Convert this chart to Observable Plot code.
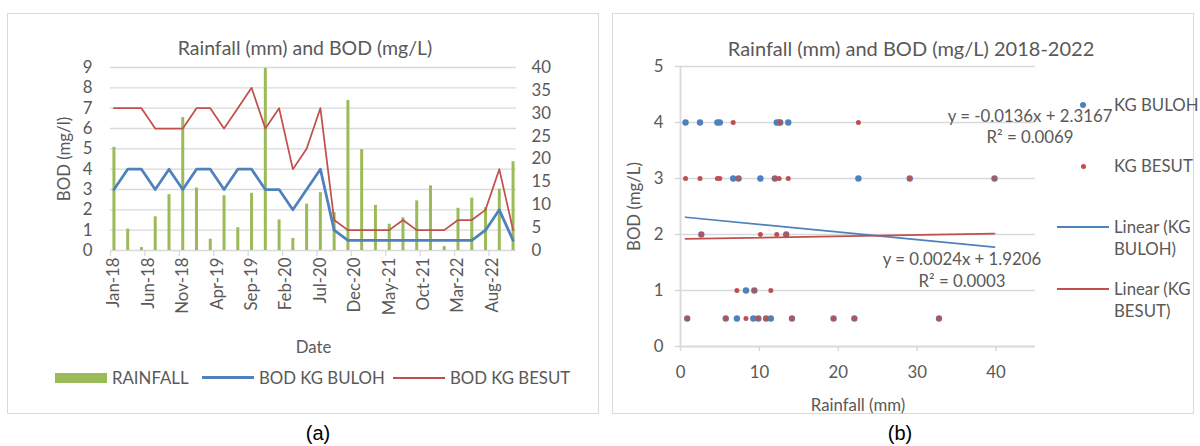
<!DOCTYPE html>
<html><head><meta charset="utf-8">
<script src="https://cdn.jsdelivr.net/npm/d3@7"></script>
<script src="https://cdn.jsdelivr.net/npm/@observablehq/plot@0.6"></script>
<style>
html,body{margin:0;padding:0;background:#fff;}
body{width:1200px;height:446px;position:relative;overflow:hidden;font-family:Lato,"Open Sans",sans-serif;color:#595959;}
.panel{position:absolute;border:1px solid #d9d9d9;box-sizing:border-box;}
.abs{position:absolute;white-space:nowrap;}
.t{position:absolute;white-space:nowrap;font-size:16.8px;line-height:22px;height:22px;}
.ctr{transform:translate(-50%,0);text-align:center;}
.title{position:absolute;white-space:nowrap;font-size:19.5px;line-height:26px;transform:translate(-50%,0);}
.cap{position:absolute;white-space:nowrap;font-size:20px;line-height:26px;color:#000;transform:translate(-50%,0);font-family:"Liberation Sans",Arial,sans-serif;}
</style></head><body>
<div class="panel" style="left:7px;top:13px;width:592px;height:401px"></div>
<div class="panel" style="left:612px;top:13px;width:582px;height:401px"></div>
<div id="chartA" class="abs" style="left:8px;top:55px"></div>
<div id="chartB" class="abs" style="left:613px;top:55px"></div>
<div id="overlay"></div>
<script>
// ---------- DATA ----------
// Panel (a): bi-monthly samples
const sampleDates = ["Jan-18","Mar-18","May-18","Jul-18","Sep-18","Nov-18","Jan-19","Mar-19","May-19","Jul-19","Sep-19","Nov-19",
  "Jan-20","Mar-20","May-20","Jul-20","Sep-20","Nov-20","Jan-21","Mar-21","May-21","Jul-21","Sep-21","Nov-21",
  "Jan-22","Mar-22","May-22","Jul-22","Sep-22","Nov-22"];
const rainfall = [22.55, 4.68, 0.64, 7.36, 12.2, 29.06, 13.66, 2.47, 11.96, 4.98, 12.5, 39.8,
  6.68, 2.64, 10.13, 12.64, 8.3, 32.77, 22.04, 9.87, 5.74, 7.15, 10.85, 14.13,
  0.85, 9.23, 11.45, 9.36, 13.4, 19.4];
const bodBuloh = [3, 4, 4, 3, 4, 3, 4, 4, 3, 4, 4, 3,
  3, 2, 3, 4, 1, 0.5, 0.5, 0.5, 0.5, 0.5, 0.5, 0.5,
  0.5, 0.5, 0.5, 1, 2, 0.5];
const bodBesut = [7, 7, 7, 6, 6, 6, 7, 7, 6, 7, 8, 6,
  7, 4, 5, 7, 1.5, 1, 1, 1, 1, 1.5, 1, 1,
  1, 1.5, 1.5, 2, 4, 1];
const dateTickLabels = ["Jan-18","Jun-18","Nov-18","Apr-19","Sep-19","Feb-20","Jul-20","Dec-20","May-21","Oct-21","Mar-22","Aug-22"];
const bodTicksA = [0,1,2,3,4,5,6,7,8,9];
const rainTicksA = [0,5,10,15,20,25,30,35,40];

// Panel (b): scatter (x = rainfall above), KG BESUT values as plotted (null = not shown)
const besutScatter = [4, 3, 3, 3, 2, 3, 3, 3, 3, 3, 3, 3,
  4, 2, 2, 4, 0.5, 0.5, 0.5, 0.5, 0.5, 1, 0.5, 0.5,
  0.5, null, 1, 1, 2, 0.5];
const bodTicksB = [0,1,2,3,4,5];
const rainTicksB = [0,10,20,30,40];
const trendNames = ["KG BULOH", "KG BESUT"];
const trendSlope = [-0.0136, 0.0024];
const trendIntercept = [2.3167, 1.9206];
const trendR2 = ["0.0069", "0.0003"];

// ---------- COLOURS ----------
const GREEN = "#9bbb59", BLUE = "#4f81bd", RED = "#c0504d", GRID = "#d9d9d9", TXT = "#595959";

// ---------- PANEL (a) ----------
const parse = d3.timeParse("%b-%y");
const base = parse(sampleDates[0]);
const monthIndex = s => { const d = parse(s); return (d.getFullYear() - base.getFullYear()) * 12 + d.getMonth() - base.getMonth(); };
const rowsA = sampleDates.map((s, i) => ({
  pos: monthIndex(s) + 0.5,
  rainScaled: rainfall[i] * 9 / 40,
  buloh: bodBuloh[i],
  besut: bodBesut[i]
}));
const tickMonths = dateTickLabels.map(monthIndex);
const labelMap = new Map(tickMonths.map((m, i) => [m + 0.5, dateTickLabels[i]]));
const xMaxA = monthIndex(sampleDates[sampleDates.length - 1]) + 1;

const chartA = Plot.plot({
  width: 590, height: 300,
  marginLeft: 102, marginRight: 82, marginTop: 12, marginBottom: 105,
  style: {fontFamily: "Lato, 'Open Sans', sans-serif", fontSize: "16.8px", color: TXT, background: "transparent", overflow: "visible"},
  x: {domain: [0, xMaxA], axis: null},
  y: {domain: [0, 9], axis: null},
  marks: [
    Plot.gridY(bodTicksA, {stroke: GRID, strokeOpacity: 1, strokeWidth: 1.3}),
    Plot.axisY({ticks: bodTicksA, tickFormat: d => String(d), tickSize: 0, tickPadding: 18, label: "BOD (mg/l)", labelAnchor: "center", labelArrow: "none", labelOffset: 52}),
    Plot.axisY({anchor: "right", ticks: rainTicksA.map(r => r * 9 / 40), tickFormat: v => String(Math.round(v * 40 / 9)), tickSize: 0, tickPadding: 15, label: null}),
    Plot.axisX({ticks: tickMonths, tickFormat: () => "", tickSize: 6, stroke: GRID, strokeWidth: 1.3, label: null}),
    Plot.axisX({ticks: tickMonths.map(m => m + 0.5), tickFormat: v => labelMap.get(v), tickRotate: -90, tickSize: 0, tickPadding: 7, label: "Date", labelAnchor: "center", labelArrow: "none", labelOffset: 102}),
    Plot.ruleX(rowsA, {x: "pos", y1: 0, y2: "rainScaled", stroke: GREEN, strokeWidth: 3}),
    Plot.line(rowsA, {x: "pos", y: "buloh", stroke: BLUE, strokeWidth: 2.75}),
    Plot.line(rowsA, {x: "pos", y: "besut", stroke: RED, strokeWidth: 1.75})
  ]
});
document.getElementById("chartA").append(chartA);

// ---------- PANEL (b) ----------
const bulohPts = rainfall.map((r, i) => ({x: r, y: bodBuloh[i]}));
const besutPts = rainfall.map((r, i) => ({x: r, y: besutScatter[i]})).filter(d => d.y != null);
const xLo = d3.min(rainfall), xHi = d3.max(rainfall);
const trendLines = trendNames.map((n, k) => [xLo, xHi].map(x => ({name: n, x, y: trendSlope[k] * x + trendIntercept[k]})));

const chartB = Plot.plot({
  width: 580, height: 357,
  marginLeft: 67, marginRight: 158, marginTop: 11, marginBottom: 66,
  style: {fontFamily: "Lato, 'Open Sans', sans-serif", fontSize: "16.8px", color: TXT, background: "transparent", overflow: "visible"},
  x: {domain: [0, 45], axis: null},
  y: {domain: [0, 5], axis: null},
  marks: [
    Plot.gridY(bodTicksB.slice(1), {stroke: GRID, strokeOpacity: 1, strokeWidth: 1.3}),
    Plot.ruleX([0], {stroke: GRID, strokeWidth: 1.8}),
    Plot.ruleY([0], {stroke: GRID, strokeWidth: 1.8}),
    Plot.axisY({ticks: bodTicksB, tickFormat: d => String(d), tickSize: 5, tickPadding: 12, stroke: GRID, strokeWidth: 1.5, label: "BOD (mg/L)", labelAnchor: "center", labelArrow: "none", labelOffset: 52}),
    Plot.axisX({ticks: rainTicksB, tickFormat: d => String(d), tickSize: 5, tickPadding: 15, stroke: GRID, strokeWidth: 1.5, label: "Rainfall (mm)", labelAnchor: "center", labelArrow: "none", labelOffset: 64}),
    Plot.dot(bulohPts, {x: "x", y: "y", r: 3.2, fill: BLUE, stroke: null}),
    Plot.dot(besutPts, {x: "x", y: "y", r: 2.5, fill: RED, stroke: null}),
    Plot.line(trendLines[0], {x: "x", y: "y", stroke: BLUE, strokeWidth: 1.75}),
    Plot.line(trendLines[1], {x: "x", y: "y", stroke: RED, strokeWidth: 1.75})
  ]
});
document.getElementById("chartB").append(chartB);

// ---------- TITLES, LEGENDS, ANNOTATIONS ----------
const fmtEq = k => {
  const s = trendSlope[k], b = trendIntercept[k];
  return "y = " + (s < 0 ? "-" : "") + Math.abs(s).toFixed(4) + "x " + (b < 0 ? "- " : "+ ") + Math.abs(b).toFixed(4);
};
const ov = document.getElementById("overlay");
const add = (html) => ov.insertAdjacentHTML("beforeend", html);
add(`<div class="title" style="left:305px;top:35px">Rainfall (mm) and BOD (mg/L)</div>`);
add(`<div class="title" style="left:911px;top:35px;font-size:20px">Rainfall (mm) and BOD (mg/L) 2018-2022</div>`);
// legend (a)
add(`<div class="abs" style="left:55px;top:373px;width:52px;height:10px;background:${GREEN}"></div>`);
add(`<div class="t" style="left:112px;top:367px">RAINFALL</div>`);
add(`<div class="abs" style="left:202px;top:376px;width:52px;height:3px;background:${BLUE}"></div>`);
add(`<div class="t" style="left:259px;top:367px">BOD KG BULOH</div>`);
add(`<div class="abs" style="left:393px;top:376.5px;width:52px;height:2px;background:${RED}"></div>`);
add(`<div class="t" style="left:450px;top:367px">BOD KG BESUT</div>`);
// legend (b)
add(`<div class="abs" style="left:${1083-3.2}px;top:${105-3.2}px;width:6.4px;height:6.4px;border-radius:50%;background:${BLUE}"></div>`);
add(`<div class="t" style="left:1114px;top:94px">${trendNames[0]}</div>`);
add(`<div class="abs" style="left:${1083-2.5}px;top:${166-2.5}px;width:5px;height:5px;border-radius:50%;background:${RED}"></div>`);
add(`<div class="t" style="left:1114px;top:155px">${trendNames[1]}</div>`);
add(`<div class="abs" style="left:1057px;top:226px;width:52px;height:2px;background:${BLUE}"></div>`);
add(`<div class="t" style="left:1114px;top:216px">Linear (KG</div>`);
add(`<div class="t" style="left:1114px;top:238px">BULOH)</div>`);
add(`<div class="abs" style="left:1057px;top:288px;width:52px;height:2px;background:${RED}"></div>`);
add(`<div class="t" style="left:1114px;top:278px">Linear (KG</div>`);
add(`<div class="t" style="left:1114px;top:300px">BESUT)</div>`);
// trend equations
add(`<div class="t ctr" style="left:1030px;top:105px">${fmtEq(0)}</div>`);
add(`<div class="t ctr" style="left:1030px;top:126px">R² = ${trendR2[0]}</div>`);
add(`<div class="t ctr" style="left:962px;top:248px">${fmtEq(1)}</div>`);
add(`<div class="t ctr" style="left:962px;top:270px">R² = ${trendR2[1]}</div>`);
// captions
add(`<div class="cap" style="left:318px;top:420px">(a)</div>`);
add(`<div class="cap" style="left:900px;top:420px">(b)</div>`);
</script>
</body></html>
